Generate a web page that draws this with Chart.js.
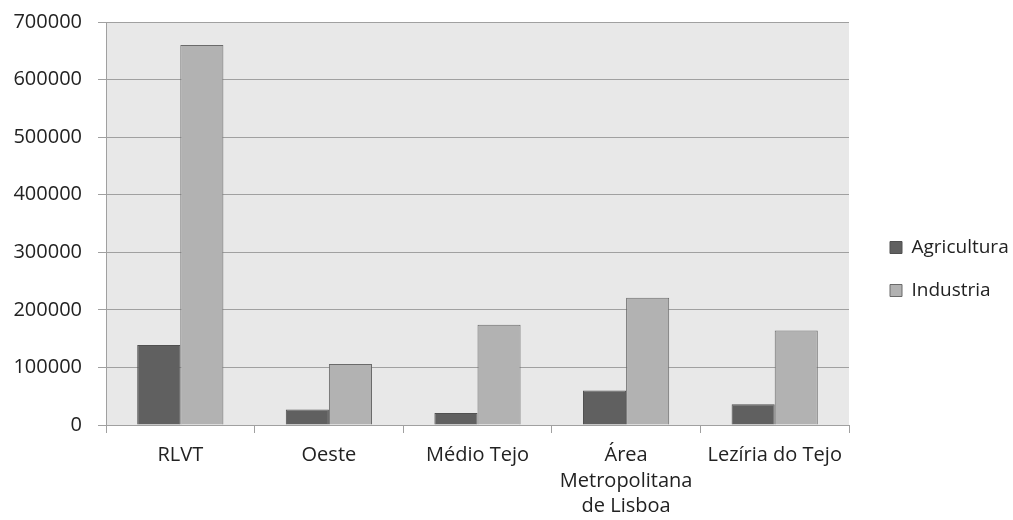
<!DOCTYPE html>
<html>
<head>
<meta charset="utf-8">
<script src="https://cdn.jsdelivr.net/npm/chart.js@4"></script>
<style>
  html, body { margin: 0; padding: 0; background: #fff; }
  #wrap { width: 1013px; height: 520px; }
</style>
</head>
<body>
<div id="wrap"><canvas id="chart"></canvas></div>
<script>
const regions = ['RLVT', 'Oeste', 'Médio Tejo', ['Área', 'Metropolitana', 'de Lisboa'], 'Lezíria do Tejo'];
const agricultura = [139000, 27000, 21000, 60000, 36000];
const industria = [660000, 106000, 174000, 221000, 164000];
const yTicks = [0, 100000, 200000, 300000, 400000, 500000, 600000, 700000];

// grey plot background like the original spreadsheet chart
const plotBg = {
    id: 'plotBg',
    beforeDraw(chart) {
        const a = chart.chartArea;
        const ctx = chart.ctx;
        ctx.save();
        ctx.fillStyle = '#e8e8e8';
        ctx.fillRect(a.left, a.top, a.right - a.left, a.bottom - a.top);
        ctx.restore();
    }
};

// legend takes a fixed slot on the right, items pushed a bit away from the plot
const legendSlot = {
    id: 'legendSlot',
    beforeLayout(chart) {
        const lg = chart.legend;
        if (lg && !lg._slot) {
            const fit = lg.fit.bind(lg);
            lg.fit = function () { fit(); this.width = 164; };
            lg._slot = true;
        }
    },
    afterLayout(chart) {
        chart.legend.left += 17;
        chart.legend.top -= 2;
        chart.legend.bottom -= 2;
    }
};

const font = { family: 'Open Sans', size: 20, lineHeight: 1.27 };

new Chart(document.getElementById('chart'), {
    type: 'bar',
    data: {
        labels: regions,
        datasets: [{
            label: 'Agricultura',
            data: agricultura,
            backgroundColor: '#606060',
            borderColor: '#505050',
            borderWidth: 1
        }, {
            label: 'Industria',
            data: industria,
            backgroundColor: '#b2b2b2',
            borderColor: '#6a6a6a',
            borderWidth: 1
        }]
    },
    options: {
        responsive: true,
        maintainAspectRatio: false,
        animation: false,
        layout: { padding: { top: 22, right: 0, left: 13, bottom: 0 } },
        datasets: { bar: { barPercentage: 1, categoryPercentage: 0.58 } },
        scales: {
            x: {
                afterFit(axis) { axis.height = 95; },
                grid: { offset: true, drawOnChartArea: false, color: '#a0a0a0', tickLength: 8 },
                border: { color: '#a0a0a0' },
                ticks: { color: '#222', font: font, maxRotation: 0, padding: 10 }
            },
            y: {
                min: 0,
                max: 700000,
                afterBuildTicks(axis) { axis.ticks = yTicks.map(v => ({ value: v })); },
                afterFit(axis) { axis.width = 93; axis.paddingTop = 0; axis.paddingBottom = 0; },
                grid: { color: '#a0a0a0', tickLength: 8 },
                border: { color: '#a0a0a0' },
                ticks: { color: '#222', font: font, padding: 16, callback: v => String(v) }
            }
        },
        plugins: {
            legend: {
                position: 'right',
                labels: { color: '#222', font: { family: 'Open Sans', size: 19 }, boxWidth: 12, boxHeight: 12, padding: 24 }
            },
            tooltip: { enabled: false }
        }
    },
    plugins: [plotBg, legendSlot]
});
</script>
</body>
</html>
